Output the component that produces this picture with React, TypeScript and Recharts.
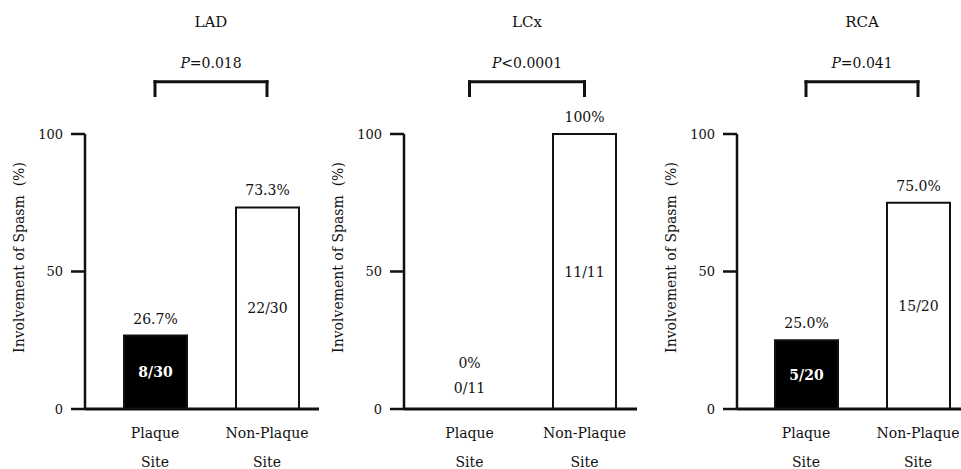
import React from 'react';
import { BarChart, Bar, XAxis, YAxis, ReferenceLine, LabelList, Cell } from 'recharts';

const categories = ['Plaque Site', 'Non-Plaque Site'];
const ladValues = [26.7, 73.3];
const lcxValues = [0, 100];
const rcaValues = [25.0, 75.0];
const ladPercentLabels = ['26.7%', '73.3%'];
const lcxPercentLabels = ['0%', '100%'];
const rcaPercentLabels = ['25.0%', '75.0%'];
const ladCounts = ['8/30', '22/30'];
const lcxCounts = ['0/11', '11/11'];
const rcaCounts = ['5/20', '15/20'];
const yTicks = [0, 50, 100];
const panelTitles = ['LAD', 'LCx', 'RCA'];
const pValueTexts = ['=0.018', '<0.0001', '=0.041'];
const barFills = ['#000000', '#ffffff'];
const yAxisTitle = 'Involvement of Spasm\u00a0 (%)';

const BRACKET_TOP = 119;
const BRACKET_BOTTOM = 114;

const FONT = '"DejaVu Serif", "Liberation Serif", serif';
const INK = '#111111';

const buildRows = (values: number[], pcts: string[], counts: string[]) =>
  categories.map((c, i) => ({ category: c, value: values[i], pct: pcts[i], count: counts[i] }));

const panels = [
  { title: panelTitles[0], p: pValueTexts[0], rows: buildRows(ladValues, ladPercentLabels, ladCounts), left: 0, width: 320, yW: 85, mr: 1, pl: 14, pr: -4 },
  { title: panelTitles[1], p: pValueTexts[1], rows: buildRows(lcxValues, lcxPercentLabels, lcxCounts), left: 320, width: 320, yW: 84, mr: 3, pl: 8, pr: -5 },
  { title: panelTitles[2], p: pValueTexts[2], rows: buildRows(rcaValues, rcaPercentLabels, rcaCounts), left: 640, width: 321, yW: 97, mr: 0, pl: 13, pr: -13 },
];

const SiteTick = (props: any) => {
  const { x, y, payload } = props;
  const words = String(payload.value).split(' ');
  return (
    <text x={x} y={y} textAnchor="middle" fontFamily={FONT} fontSize={14} fill={INK}>
      <tspan x={x} dy={29}>{words[0]}</tspan>
      <tspan x={x} dy={29}>{words[1]}</tspan>
    </text>
  );
};

const isFlat = (h: any) => Math.abs(Number(h)) <= 1.5;

const PctLabel = (props: any) => {
  const { x, y, width, height, value } = props;
  const zero = isFlat(height);
  const cx = Number(x) + Number(width) / 2;
  const base = Number(y) + (zero ? Number(height) : 0);
  const ty = zero ? base - 41 : base - 12;
  return (
    <text x={cx} y={ty} textAnchor="middle" fontFamily={FONT} fontSize={14} fill={INK}>
      {value}
    </text>
  );
};

const CountLabel = (props: any) => {
  const { x, y, width, height, value, index } = props;
  const zero = isFlat(height);
  const cx = Number(x) + Number(width) / 2;
  const ty = zero ? Number(y) + Number(height) - 16 : Number(y) + Number(height) / 2 + 5;
  const onDark = index === 0 && !zero;
  return (
    <text
      x={cx}
      y={ty}
      textAnchor="middle"
      fontFamily={FONT}
      fontSize={14}
      fontWeight={onDark ? 'bold' : 'normal'}
      fill={onDark ? '#ffffff' : INK}
    >
      {value}
    </text>
  );
};

const Panel = ({ cfg }: { cfg: typeof panels[number] }) => {
  const yLabel = (p: any) => {
    const vb = p.viewBox || { x: 0, y: 134, width: cfg.yW, height: 275 };
    const x = vb.x + vb.width - 66;
    const y = vb.y + vb.height / 2 - 14;
    return (
      <text
        x={x}
        y={y}
        transform={`rotate(-90 ${x} ${y})`}
        textAnchor="middle"
        dominantBaseline="central"
        fontFamily={FONT}
        fontSize={14}
        fill={INK}
      >
        {yAxisTitle}
      </text>
    );
  };
  const bracketLabel = (p: any) => {
    const vb = p.viewBox;
    if (!vb) return null;
    const cx = vb.x + vb.width / 2;
    const y = vb.y;
    return (
      <g>
        <text x={cx} y={y - 55} textAnchor="middle" fontFamily={FONT} fontSize={15} fill={INK}>
          {cfg.title}
        </text>
        <text x={cx} y={y - 14} textAnchor="middle" fontFamily={FONT} fontSize={14} fill={INK}>
          <tspan fontStyle="italic">P</tspan>
          {cfg.p}
        </text>
      </g>
    );
  };
  return (
    <div style={{ position: 'absolute', left: cfg.left, top: 0, width: cfg.width, height: 469 }}>
      <BarChart
        width={cfg.width}
        height={469}
        data={cfg.rows}
        margin={{ top: 134, right: cfg.mr, bottom: 0, left: 0 }}
      >
        <XAxis
          dataKey="category"
          tickLine={false}
          axisLine={{ stroke: INK, strokeWidth: 3 }}
          tick={<SiteTick />}
          tickSize={0}
          tickMargin={0}
          height={60}
          interval={0}
          padding={{ left: cfg.pl, right: cfg.pr }}
        />
        <YAxis
          domain={[0, 100]}
          ticks={yTicks}
          interval={0}
          width={cfg.yW}
          tickSize={14}
          tickMargin={8}
          tickLine={{ stroke: INK, strokeWidth: 2.5 }}
          axisLine={{ stroke: INK, strokeWidth: 2.5 }}
          tick={{ fontFamily: FONT, fontSize: 13, fill: INK }}
          label={{ content: yLabel }}
        />
        <ReferenceLine
          segment={[{ x: categories[0], y: BRACKET_TOP }, { x: categories[1], y: BRACKET_TOP }]}
          stroke={INK}
          strokeWidth={3}
          strokeLinecap="square"
          ifOverflow="visible"
          label={{ content: bracketLabel }}
        />
        <ReferenceLine
          segment={[{ x: categories[0], y: BRACKET_TOP }, { x: categories[0], y: BRACKET_BOTTOM }]}
          stroke={INK}
          strokeWidth={3}
          strokeLinecap="square"
          ifOverflow="visible"
        />
        <ReferenceLine
          segment={[{ x: categories[1], y: BRACKET_TOP }, { x: categories[1], y: BRACKET_BOTTOM }]}
          stroke={INK}
          strokeWidth={3}
          strokeLinecap="square"
          ifOverflow="visible"
        />
        <Bar dataKey="value" barSize={63} minPointSize={1} strokeWidth={2} isAnimationActive={false}>
          {cfg.rows.map((r, i) => (
            <Cell
              key={r.category}
              fill={r.value === 0 ? 'none' : barFills[i]}
              stroke={r.value === 0 ? 'none' : INK}
            />
          ))}
          <LabelList dataKey="pct" content={<PctLabel />} />
          <LabelList dataKey="count" content={<CountLabel />} />
        </Bar>
      </BarChart>
    </div>
  );
}

export default function App() {
  return (
    <div style={{ position: 'absolute', left: 0, top: 0, width: 961, height: 469, background: '#ffffff', overflow: 'hidden' }}>
      {panels.map((cfg) => (
        <Panel key={cfg.title} cfg={cfg} />
      ))}
    </div>
  );
}
